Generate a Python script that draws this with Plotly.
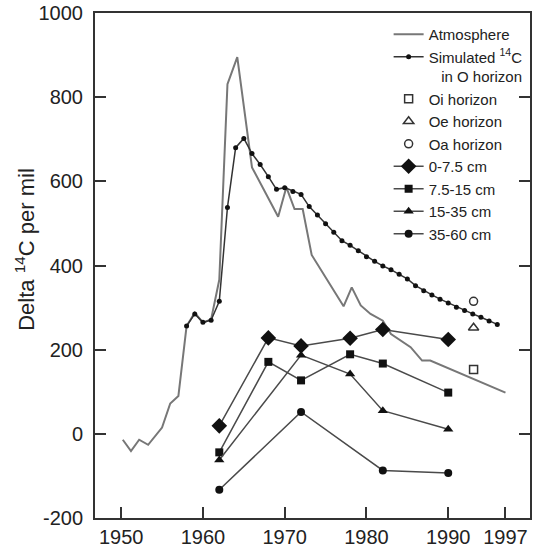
import plotly.graph_objects as go

# Atmosphere
atm_year = [1950.2, 1951.2, 1952.2, 1953.3, 1955, 1956, 1957, 1958, 1959, 1960, 1961, 1962,
            1963, 1964.2, 1966, 1969.2, 1970.2, 1971.2, 1972.2, 1973.3, 1977.2, 1978.2, 1979.3,
            1980.5, 1982, 1983, 1985.4, 1986.8, 1987.8, 1997]
atm_val = [-14, -41, -14, -26, 15, 72, 90, 256, 288, 264, 272, 366,
           831, 895, 633, 516, 586, 534, 534, 425, 303, 348, 305,
           285, 269, 237, 206, 174, 174, 98]

# Simulated 14C in O horizon
sim_year = list(range(1958, 1997))
sim_val = [256, 285, 265, 270, 315, 538, 680, 702, 666, 640, 611, 581, 585, 576, 569, 540,
           520, 499, 479, 459, 448, 435, 421, 410, 399, 390, 379, 368, 352, 340, 330, 320,
           311, 301, 293, 285, 277, 268, 260]

# O horizons (single measurements)
o_year = [1993.1]
oi_val = [153]
oe_val = [252]
oa_val = [315]

# Soil depths
d1_year = [1962, 1968, 1972, 1978, 1982, 1990]
d1_val = [19, 228, 209, 227, 248, 224]
d2_year = [1962, 1968, 1972, 1978, 1982, 1990]
d2_val = [-44, 171, 127, 189, 167, 98]
d3_year = [1962, 1972, 1978, 1982, 1990]
d3_val = [-62, 187, 142, 55, 11]
d4_year = [1962, 1972, 1982, 1990]
d4_val = [-133, 52, -87, -93]

x_ticks = [1950, 1960, 1970, 1980, 1990, 1997]
y_ticks = [-200, 0, 200, 400, 600, 800, 1000]
y_title = "Delta <sup>14</sup>C per mil"

LINE = "#4a4a4a"
fig = go.Figure()
fig.add_trace(go.Scatter(x=atm_year, y=atm_val, mode="lines", name="Atmosphere",
                         line=dict(color="#777777", width=2)))
fig.add_trace(go.Scatter(x=sim_year, y=sim_val, mode="lines+markers",
                         name="Simulated <sup>14</sup>C<br>\u00a0\u00a0\u00a0in O horizon",
                         line=dict(color="#333333", width=1.5),
                         marker=dict(color="#111111", size=5, symbol="circle")))
fig.add_trace(go.Scatter(x=o_year, y=oi_val, mode="markers", name="Oi horizon",
                         marker=dict(symbol="square-open", size=8, color="#333333", line=dict(width=1.5))))
fig.add_trace(go.Scatter(x=o_year, y=oe_val, mode="markers", name="Oe horizon",
                         marker=dict(symbol="triangle-up-open", size=9, color="#333333", line=dict(width=1.5))))
fig.add_trace(go.Scatter(x=o_year, y=oa_val, mode="markers", name="Oa horizon",
                         marker=dict(symbol="circle-open", size=8, color="#333333", line=dict(width=1.5))))
fig.add_trace(go.Scatter(x=d1_year, y=d1_val, mode="lines+markers", name="0-7.5 cm",
                         line=dict(color=LINE, width=1.5),
                         marker=dict(symbol="diamond", size=12, color="#111111")))
fig.add_trace(go.Scatter(x=d2_year, y=d2_val, mode="lines+markers", name="7.5-15 cm",
                         line=dict(color=LINE, width=1.5),
                         marker=dict(symbol="square", size=8, color="#111111")))
fig.add_trace(go.Scatter(x=d3_year, y=d3_val, mode="lines+markers", name="15-35 cm",
                         line=dict(color=LINE, width=1.5),
                         marker=dict(symbol="triangle-up", size=9, color="#111111")))
fig.add_trace(go.Scatter(x=d4_year, y=d4_val, mode="lines+markers", name="35-60 cm",
                         line=dict(color=LINE, width=1.5),
                         marker=dict(symbol="circle", size=8, color="#111111")))

FONT = "Liberation Sans, Arial, sans-serif"
fig.update_layout(
    width=533, height=555,
    margin=dict(l=95, r=3, t=13, b=37, autoexpand=False),
    paper_bgcolor="white", plot_bgcolor="white",
    font=dict(family=FONT, color="#222222"),
    showlegend=True,
    legend=dict(x=0.675, y=0.99, xanchor="left", yanchor="top",
                bgcolor="rgba(0,0,0,0)", font=dict(size=15, family=FONT, color="#222222"),
                valign="top", tracegroupgap=0),
    xaxis=dict(range=[1946.8, 2000], tickvals=x_ticks, ticktext=[str(v) for v in x_ticks],
               ticks="inside", ticklen=11, tickwidth=2, tickcolor="#333333",
               showline=True, linecolor="#333333", linewidth=2, mirror=True,
               showgrid=False, zeroline=False, automargin=False,
               tickfont=dict(size=20, family=FONT, color="#222222")),
    yaxis=dict(range=[-200, 1000], tickvals=y_ticks, ticktext=[str(v) for v in y_ticks],
               ticks="inside", ticklen=11, tickwidth=2, tickcolor="#333333",
               showline=True, linecolor="#333333", linewidth=2, mirror="ticks",
               showgrid=False, zeroline=False, automargin=False,
               tickfont=dict(size=20, family=FONT, color="#222222"),
               ticklabelstandoff=6),
    annotations=[dict(text=y_title, xref="paper", yref="paper", x=-0.161, y=0.533,
                      xanchor="center", yanchor="middle", textangle=-90, showarrow=False,
                      font=dict(size=22, family=FONT, color="#222222"))],
)
fig.write_html("out.html", config={"displayModeBar": False},
               post_script="document.body.style.margin='0';")
